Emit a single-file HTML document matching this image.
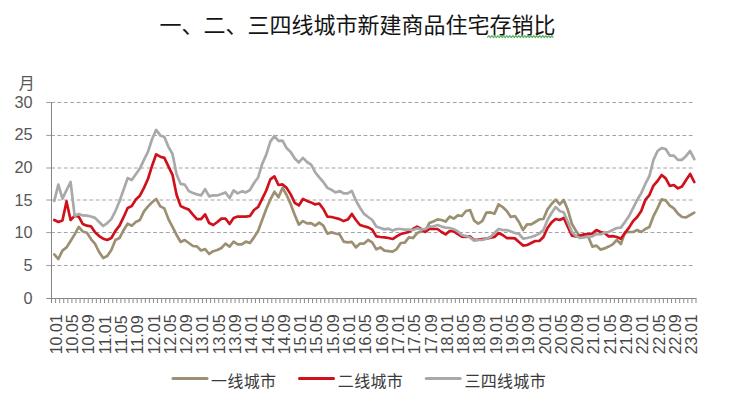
<!DOCTYPE html>
<html lang="zh"><head><meta charset="utf-8"><title>一、二、三四线城市新建商品住宅存销比</title>
<style>html,body{margin:0;padding:0;background:#fff}body{width:740px;height:400px;overflow:hidden;font-family:"Liberation Sans","Noto Sans CJK SC",sans-serif}svg{display:block}.t{font-family:"Liberation Sans","Noto Sans CJK SC",sans-serif}</style></head><body>
<svg width="740" height="400" viewBox="0 0 740 400">
<rect width="740" height="400" fill="#fff"/>
<text class="t" x="159.4" y="33.15" font-size="22" fill="#141414">一、二、三四线城市新建商品住宅存销比</text>
<path d="M487.3 37.6 L488.8 35.6 L490.3 37.6 L491.8 35.6 L493.3 37.6 L494.8 35.6 L496.3 37.6 L497.8 35.6 L499.3 37.6 L500.8 35.6 L502.3 37.6 L503.8 35.6 L505.3 37.6 L506.8 35.6 L508.3 37.6 L509.8 35.6 L511.3 37.6 L512.8 35.6 L514.3 37.6 L515.8 35.6 L517.3 37.6 L518.8 35.6 L520.3 37.6 L521.8 35.6 L523.3 37.6 L524.8 35.6 L526.3 37.6 L527.8 35.6 L529.3 37.6 L530.8 35.6 L532.3 37.6 L533.8 35.6 L535.3 37.6 L536.8 35.6 L538.3 37.6 L539.8 35.6 L541.3 37.6 L542.8 35.6 L544.3 37.6 L545.8 35.6 L547.3 37.6 L548.8 35.6 L550.3 37.6 L551.8 35.6 L553.3 37.6" fill="none" stroke="#5fb164" stroke-width="1.2" stroke-linejoin="round"/>
<line x1="46.2" y1="265.5" x2="52.0" y2="265.5" stroke="#a3a3a3" stroke-width="1.1"/>
<line x1="51.1" y1="265.5" x2="693.0" y2="265.5" stroke="#a3a3a3" stroke-width="1.1" stroke-dasharray="3.8 2.577"/>
<line x1="46.2" y1="232.5" x2="52.0" y2="232.5" stroke="#a3a3a3" stroke-width="1.1"/>
<line x1="51.1" y1="232.5" x2="693.0" y2="232.5" stroke="#a3a3a3" stroke-width="1.1" stroke-dasharray="3.8 2.577"/>
<line x1="46.2" y1="200.0" x2="52.0" y2="200.0" stroke="#a3a3a3" stroke-width="1.1"/>
<line x1="51.1" y1="200.0" x2="693.0" y2="200.0" stroke="#a3a3a3" stroke-width="1.1" stroke-dasharray="3.8 2.577"/>
<line x1="46.2" y1="168.0" x2="52.0" y2="168.0" stroke="#a3a3a3" stroke-width="1.1"/>
<line x1="51.1" y1="168.0" x2="693.0" y2="168.0" stroke="#a3a3a3" stroke-width="1.1" stroke-dasharray="3.8 2.577"/>
<line x1="46.2" y1="135.45" x2="52.0" y2="135.45" stroke="#a3a3a3" stroke-width="1.1"/>
<line x1="51.1" y1="135.45" x2="693.0" y2="135.45" stroke="#a3a3a3" stroke-width="1.1" stroke-dasharray="3.8 2.577"/>
<line x1="46.2" y1="102.5" x2="52.0" y2="102.5" stroke="#a3a3a3" stroke-width="1.1"/>
<line x1="51.1" y1="102.5" x2="693.0" y2="102.5" stroke="#a3a3a3" stroke-width="1.1" stroke-dasharray="3.8 2.577"/>
<polyline points="54.29,254.40 58.36,259.03 62.44,250.62 66.52,247.43 70.59,240.98 74.67,234.39 78.74,226.96 82.82,231.53 86.90,232.83 90.97,239.02 95.05,243.97 99.13,251.99 103.20,257.99 107.28,256.03 111.35,249.97 115.43,240.00 119.51,238.04 123.58,230.22 127.66,223.71 131.73,225.66 135.81,222.01 139.89,219.99 143.96,211.32 148.04,206.37 152.11,202.20 156.19,198.94 160.27,206.37 164.34,208.39 168.42,219.14 172.50,226.96 176.57,234.98 180.65,241.95 184.72,240.00 188.80,243.00 192.88,245.99 196.95,246.39 201.03,250.43 205.10,249.12 209.18,254.01 213.26,251.21 217.33,249.97 221.41,248.01 225.48,243.58 229.56,246.58 233.64,241.63 237.71,244.43 241.79,244.43 245.87,241.63 249.94,243.00 254.02,237.39 258.09,231.01 262.17,219.99 266.25,208.98 270.32,199.59 274.40,191.77 278.47,197.31 282.55,187.86 286.63,195.03 290.70,204.16 294.78,214.97 298.85,224.62 302.93,221.10 307.01,223.38 311.08,223.05 315.16,225.66 319.24,222.60 323.31,225.66 327.39,233.61 331.46,232.37 335.54,233.48 339.62,234.39 343.69,241.63 347.77,242.41 351.84,241.95 355.92,247.43 360.00,243.58 364.07,243.58 368.15,240.00 372.22,242.41 376.30,249.38 380.38,247.43 384.45,250.62 388.53,251.08 392.61,251.60 396.68,249.12 400.76,243.00 404.83,242.61 408.91,237.39 412.99,238.04 417.06,233.03 421.14,231.59 425.21,231.01 429.29,223.05 433.37,221.43 437.44,219.40 441.52,219.99 445.59,221.62 449.67,216.54 453.75,218.62 457.82,215.43 461.90,216.02 465.98,211.00 470.05,210.02 474.13,220.58 478.20,223.58 482.28,221.10 486.36,212.63 490.43,212.43 494.51,213.60 498.58,204.42 502.66,207.02 506.74,211.00 510.81,216.99 514.89,216.02 518.97,222.01 523.04,230.03 527.12,224.36 531.19,224.36 535.27,222.01 539.35,219.40 543.42,219.01 547.50,209.37 551.57,204.02 555.65,199.59 559.73,204.42 563.80,199.98 567.88,210.02 571.95,224.03 576.03,231.01 580.11,236.41 584.18,236.41 588.26,236.74 592.34,246.58 596.41,245.60 600.49,249.58 604.56,248.41 608.64,246.58 612.72,244.43 616.79,240.00 620.87,243.97 624.94,232.37 629.02,231.98 633.10,231.98 637.17,230.03 641.25,231.98 645.32,228.98 649.40,226.96 653.48,216.02 657.55,208.07 661.63,199.40 665.71,200.38 669.78,205.59 673.86,208.39 677.93,213.60 682.01,216.99 686.09,217.38 690.16,214.97 694.24,212.63" fill="none" stroke="#9b9071" stroke-width="2.7" stroke-linejoin="round" stroke-linecap="round"/>
<polyline points="54.29,219.99 58.36,222.01 62.44,220.45 66.52,201.42 70.59,219.99 74.67,215.89 78.74,216.54 82.82,224.03 86.90,225.66 90.97,226.31 95.05,232.18 99.13,236.09 103.20,238.70 107.28,240.00 111.35,238.04 115.43,230.87 119.51,225.66 123.58,217.19 127.66,208.07 131.73,206.11 135.81,199.59 139.89,195.68 143.96,187.86 148.04,178.74 152.11,165.70 156.19,154.30 160.27,156.71 164.34,157.88 168.42,166.36 172.50,174.83 176.57,194.71 180.65,206.11 184.72,208.07 188.80,209.63 192.88,214.58 196.95,219.14 201.03,219.14 205.10,214.39 209.18,223.05 213.26,225.01 217.33,222.01 221.41,218.62 225.48,218.49 229.56,224.03 233.64,217.97 237.71,216.54 241.79,216.54 245.87,216.54 249.94,216.02 254.02,210.02 258.09,207.02 262.17,198.94 266.25,190.47 270.32,179.39 274.40,176.39 278.47,185.00 282.55,184.41 286.63,187.86 290.70,194.38 294.78,202.85 298.85,205.46 302.93,198.94 307.01,200.90 311.08,202.40 315.16,204.42 319.24,203.50 323.31,208.98 327.39,216.54 331.46,216.99 335.54,217.97 339.62,219.14 343.69,221.10 347.77,219.60 351.84,213.93 355.92,219.99 360.00,225.01 364.07,226.31 368.15,227.42 372.22,229.57 376.30,236.41 380.38,237.00 384.45,237.39 388.53,238.04 392.61,239.02 396.68,236.41 400.76,234.00 404.83,233.03 408.91,231.98 412.99,228.98 417.06,226.57 421.14,228.98 425.21,231.98 429.29,228.98 433.37,228.98 437.44,228.98 441.52,231.98 445.59,234.39 449.67,231.01 453.75,231.40 457.82,234.00 461.90,236.61 465.98,237.00 470.05,236.41 474.13,240.00 478.20,239.61 482.28,239.02 486.36,238.70 490.43,237.59 494.51,237.00 498.58,233.03 502.66,234.98 506.74,238.04 510.81,238.04 514.89,238.37 518.97,241.95 523.04,245.60 527.12,245.02 531.19,243.00 535.27,240.98 539.35,240.98 543.42,237.00 547.50,228.01 551.57,222.40 555.65,219.01 559.73,219.99 563.80,217.97 567.88,226.96 571.95,235.63 576.03,236.41 580.11,235.63 584.18,234.39 588.26,234.00 592.34,233.61 596.41,230.03 600.49,231.98 604.56,233.03 608.64,236.41 612.72,236.09 616.79,237.00 620.87,238.70 624.94,233.03 629.02,227.62 633.10,221.10 637.17,216.99 641.25,211.00 645.32,199.98 649.40,195.03 653.48,185.58 657.55,181.02 661.63,175.02 665.71,178.41 669.78,185.97 673.86,185.00 677.93,188.38 682.01,186.43 686.09,180.04 690.16,173.98 694.24,182.00" fill="none" stroke="#d0111b" stroke-width="2.7" stroke-linejoin="round" stroke-linecap="round"/>
<polyline points="54.29,200.90 58.36,184.60 62.44,198.62 66.52,190.14 70.59,182.00 74.67,215.89 78.74,213.93 82.82,215.43 86.90,215.63 90.97,216.54 95.05,217.84 99.13,222.01 103.20,225.99 107.28,223.05 111.35,219.14 115.43,211.00 119.51,201.22 123.58,189.82 127.66,178.09 131.73,180.04 135.81,174.18 139.89,168.57 143.96,159.84 148.04,151.69 152.11,138.99 156.19,129.86 160.27,135.40 164.34,137.03 168.42,146.81 172.50,153.97 176.57,174.18 180.65,183.95 184.72,184.60 188.80,191.12 192.88,193.08 196.95,194.38 201.03,195.42 205.10,189.17 209.18,196.33 213.26,195.42 217.33,195.42 221.41,193.99 225.48,192.42 229.56,198.03 233.64,190.47 237.71,193.40 241.79,191.38 245.87,192.42 249.94,190.01 254.02,182.97 258.09,177.44 262.17,164.01 266.25,154.63 270.32,141.59 274.40,135.99 278.47,140.94 282.55,140.61 286.63,148.11 290.70,152.02 294.78,158.54 298.85,162.45 302.93,157.88 307.01,161.99 311.08,164.60 315.16,172.22 319.24,177.44 323.31,182.00 327.39,187.86 331.46,189.82 335.54,192.42 339.62,190.99 343.69,193.47 347.77,193.40 351.84,190.93 355.92,200.57 360.00,207.74 364.07,213.93 368.15,216.99 372.22,219.99 376.30,226.57 380.38,228.01 384.45,229.38 388.53,228.59 392.61,230.61 396.68,228.98 400.76,228.98 404.83,229.57 408.91,229.57 412.99,230.03 417.06,228.40 421.14,229.57 425.21,228.98 429.29,226.57 433.37,226.57 437.44,225.01 441.52,226.57 445.59,227.62 449.67,228.01 453.75,229.18 457.82,231.40 461.90,234.98 465.98,236.09 470.05,237.59 474.13,240.65 478.20,240.00 482.28,240.00 486.36,238.70 490.43,237.00 494.51,233.03 498.58,228.98 502.66,230.03 506.74,230.03 510.81,231.40 514.89,233.03 518.97,234.00 523.04,238.70 527.12,238.04 531.19,237.00 535.27,235.63 539.35,233.61 543.42,230.03 547.50,219.99 551.57,213.02 555.65,207.02 559.73,211.00 563.80,212.43 567.88,222.01 571.95,231.98 576.03,236.09 580.11,238.04 584.18,237.39 588.26,236.61 592.34,236.41 596.41,234.00 600.49,234.39 604.56,232.63 608.64,231.98 612.72,230.03 616.79,228.01 620.87,227.62 624.94,222.01 629.02,216.02 633.10,208.07 637.17,199.98 641.25,193.08 645.32,183.95 649.40,176.13 653.48,159.84 657.55,150.98 661.63,148.11 665.71,149.02 669.78,155.60 673.86,155.60 677.93,159.84 682.01,159.84 686.09,155.93 690.16,150.98 694.24,159.19" fill="none" stroke="#a9a9a9" stroke-width="2.7" stroke-linejoin="round" stroke-linecap="round"/>
<line x1="51.5" y1="102.0" x2="51.5" y2="303.0" stroke="#858585" stroke-width="1"/>
<line x1="46.5" y1="298.5" x2="696.5" y2="298.5" stroke="#858585" stroke-width="1"/>
<path d="M55.58 298.5v4.5M59.66 298.5v4.5M63.74 298.5v4.5M67.82 298.5v4.5M71.90 298.5v4.5M75.97 298.5v4.5M80.05 298.5v4.5M84.13 298.5v4.5M88.21 298.5v4.5M92.29 298.5v4.5M96.37 298.5v4.5M100.45 298.5v4.5M104.53 298.5v4.5M108.61 298.5v4.5M112.69 298.5v4.5M116.77 298.5v4.5M120.84 298.5v4.5M124.92 298.5v4.5M129.00 298.5v4.5M133.08 298.5v4.5M137.16 298.5v4.5M141.24 298.5v4.5M145.32 298.5v4.5M149.40 298.5v4.5M153.48 298.5v4.5M157.56 298.5v4.5M161.64 298.5v4.5M165.72 298.5v4.5M169.79 298.5v4.5M173.87 298.5v4.5M177.95 298.5v4.5M182.03 298.5v4.5M186.11 298.5v4.5M190.19 298.5v4.5M194.27 298.5v4.5M198.35 298.5v4.5M202.43 298.5v4.5M206.51 298.5v4.5M210.59 298.5v4.5M214.66 298.5v4.5M218.74 298.5v4.5M222.82 298.5v4.5M226.90 298.5v4.5M230.98 298.5v4.5M235.06 298.5v4.5M239.14 298.5v4.5M243.22 298.5v4.5M247.30 298.5v4.5M251.38 298.5v4.5M255.46 298.5v4.5M259.53 298.5v4.5M263.61 298.5v4.5M267.69 298.5v4.5M271.77 298.5v4.5M275.85 298.5v4.5M279.93 298.5v4.5M284.01 298.5v4.5M288.09 298.5v4.5M292.17 298.5v4.5M296.25 298.5v4.5M300.33 298.5v4.5M304.41 298.5v4.5M308.48 298.5v4.5M312.56 298.5v4.5M316.64 298.5v4.5M320.72 298.5v4.5M324.80 298.5v4.5M328.88 298.5v4.5M332.96 298.5v4.5M337.04 298.5v4.5M341.12 298.5v4.5M345.20 298.5v4.5M349.28 298.5v4.5M353.35 298.5v4.5M357.43 298.5v4.5M361.51 298.5v4.5M365.59 298.5v4.5M369.67 298.5v4.5M373.75 298.5v4.5M377.83 298.5v4.5M381.91 298.5v4.5M385.99 298.5v4.5M390.07 298.5v4.5M394.15 298.5v4.5M398.22 298.5v4.5M402.30 298.5v4.5M406.38 298.5v4.5M410.46 298.5v4.5M414.54 298.5v4.5M418.62 298.5v4.5M422.70 298.5v4.5M426.78 298.5v4.5M430.86 298.5v4.5M434.94 298.5v4.5M439.02 298.5v4.5M443.09 298.5v4.5M447.17 298.5v4.5M451.25 298.5v4.5M455.33 298.5v4.5M459.41 298.5v4.5M463.49 298.5v4.5M467.57 298.5v4.5M471.65 298.5v4.5M475.73 298.5v4.5M479.81 298.5v4.5M483.89 298.5v4.5M487.97 298.5v4.5M492.04 298.5v4.5M496.12 298.5v4.5M500.20 298.5v4.5M504.28 298.5v4.5M508.36 298.5v4.5M512.44 298.5v4.5M516.52 298.5v4.5M520.60 298.5v4.5M524.68 298.5v4.5M528.76 298.5v4.5M532.84 298.5v4.5M536.91 298.5v4.5M540.99 298.5v4.5M545.07 298.5v4.5M549.15 298.5v4.5M553.23 298.5v4.5M557.31 298.5v4.5M561.39 298.5v4.5M565.47 298.5v4.5M569.55 298.5v4.5M573.63 298.5v4.5M577.71 298.5v4.5M581.78 298.5v4.5M585.86 298.5v4.5M589.94 298.5v4.5M594.02 298.5v4.5M598.10 298.5v4.5M602.18 298.5v4.5M606.26 298.5v4.5M610.34 298.5v4.5M614.42 298.5v4.5M618.50 298.5v4.5M622.58 298.5v4.5M626.66 298.5v4.5M630.73 298.5v4.5M634.81 298.5v4.5M638.89 298.5v4.5M642.97 298.5v4.5M647.05 298.5v4.5M651.13 298.5v4.5M655.21 298.5v4.5M659.29 298.5v4.5M663.37 298.5v4.5M667.45 298.5v4.5M671.53 298.5v4.5M675.60 298.5v4.5M679.68 298.5v4.5M683.76 298.5v4.5M687.84 298.5v4.5M691.92 298.5v4.5M696.00 298.5v4.5" stroke="#8c8c8c" stroke-width="1" fill="none"/>
<text class="t" x="23.45" y="303.69" font-size="16.3" fill="#575757">0</text>
<text class="t" x="23.45" y="271.05" font-size="16.3" fill="#575757">5</text>
<text class="t" x="14.41" y="238.41" font-size="16.3" fill="#575757">10</text>
<text class="t" x="14.41" y="205.77" font-size="16.3" fill="#575757">15</text>
<text class="t" x="14.41" y="173.13" font-size="16.3" fill="#575757">20</text>
<text class="t" x="14.41" y="140.49" font-size="16.3" fill="#575757">25</text>
<text class="t" x="14.41" y="107.85" font-size="16.3" fill="#575757">30</text>
<text class="t" x="18.7" y="88.9" font-size="16" fill="#575757">月</text>
<text class="t" transform="translate(61.85 354.3) rotate(-90)" font-size="16" fill="#474747">10.01</text>
<text class="t" transform="translate(78.14 354.3) rotate(-90)" font-size="16" fill="#474747">10.05</text>
<text class="t" transform="translate(94.43 354.3) rotate(-90)" font-size="16" fill="#474747">10.09</text>
<text class="t" transform="translate(110.72 354.3) rotate(-90)" font-size="16" fill="#474747">11.01</text>
<text class="t" transform="translate(127.01 354.3) rotate(-90)" font-size="16" fill="#474747">11.05</text>
<text class="t" transform="translate(143.30 354.3) rotate(-90)" font-size="16" fill="#474747">11.09</text>
<text class="t" transform="translate(159.59 354.3) rotate(-90)" font-size="16" fill="#474747">12.01</text>
<text class="t" transform="translate(175.88 354.3) rotate(-90)" font-size="16" fill="#474747">12.05</text>
<text class="t" transform="translate(192.17 354.3) rotate(-90)" font-size="16" fill="#474747">12.09</text>
<text class="t" transform="translate(208.46 354.3) rotate(-90)" font-size="16" fill="#474747">13.01</text>
<text class="t" transform="translate(224.75 354.3) rotate(-90)" font-size="16" fill="#474747">13.05</text>
<text class="t" transform="translate(241.04 354.3) rotate(-90)" font-size="16" fill="#474747">13.09</text>
<text class="t" transform="translate(257.33 354.3) rotate(-90)" font-size="16" fill="#474747">14.01</text>
<text class="t" transform="translate(273.62 354.3) rotate(-90)" font-size="16" fill="#474747">14.05</text>
<text class="t" transform="translate(289.91 354.3) rotate(-90)" font-size="16" fill="#474747">14.09</text>
<text class="t" transform="translate(306.20 354.3) rotate(-90)" font-size="16" fill="#474747">15.01</text>
<text class="t" transform="translate(322.49 354.3) rotate(-90)" font-size="16" fill="#474747">15.05</text>
<text class="t" transform="translate(338.78 354.3) rotate(-90)" font-size="16" fill="#474747">15.09</text>
<text class="t" transform="translate(355.07 354.3) rotate(-90)" font-size="16" fill="#474747">16.01</text>
<text class="t" transform="translate(371.36 354.3) rotate(-90)" font-size="16" fill="#474747">16.05</text>
<text class="t" transform="translate(387.65 354.3) rotate(-90)" font-size="16" fill="#474747">16.09</text>
<text class="t" transform="translate(403.94 354.3) rotate(-90)" font-size="16" fill="#474747">17.01</text>
<text class="t" transform="translate(420.23 354.3) rotate(-90)" font-size="16" fill="#474747">17.05</text>
<text class="t" transform="translate(436.52 354.3) rotate(-90)" font-size="16" fill="#474747">17.09</text>
<text class="t" transform="translate(452.81 354.3) rotate(-90)" font-size="16" fill="#474747">18.01</text>
<text class="t" transform="translate(469.10 354.3) rotate(-90)" font-size="16" fill="#474747">18.05</text>
<text class="t" transform="translate(485.39 354.3) rotate(-90)" font-size="16" fill="#474747">18.09</text>
<text class="t" transform="translate(501.68 354.3) rotate(-90)" font-size="16" fill="#474747">19.01</text>
<text class="t" transform="translate(517.97 354.3) rotate(-90)" font-size="16" fill="#474747">19.05</text>
<text class="t" transform="translate(534.26 354.3) rotate(-90)" font-size="16" fill="#474747">19.09</text>
<text class="t" transform="translate(550.55 354.3) rotate(-90)" font-size="16" fill="#474747">20.01</text>
<text class="t" transform="translate(566.84 354.3) rotate(-90)" font-size="16" fill="#474747">20.05</text>
<text class="t" transform="translate(583.13 354.3) rotate(-90)" font-size="16" fill="#474747">20.09</text>
<text class="t" transform="translate(599.42 354.3) rotate(-90)" font-size="16" fill="#474747">21.01</text>
<text class="t" transform="translate(615.71 354.3) rotate(-90)" font-size="16" fill="#474747">21.05</text>
<text class="t" transform="translate(632.00 354.3) rotate(-90)" font-size="16" fill="#474747">21.09</text>
<text class="t" transform="translate(648.29 354.3) rotate(-90)" font-size="16" fill="#474747">22.01</text>
<text class="t" transform="translate(664.58 354.3) rotate(-90)" font-size="16" fill="#474747">22.05</text>
<text class="t" transform="translate(680.87 354.3) rotate(-90)" font-size="16" fill="#474747">22.09</text>
<text class="t" transform="translate(697.16 354.3) rotate(-90)" font-size="16" fill="#474747">23.01</text>
<line x1="173.0" y1="378.45" x2="207.0" y2="378.45" stroke="#9b9071" stroke-width="3.0" stroke-linecap="round"/>
<text class="t" x="211.1" y="386.5" font-size="16" letter-spacing="0.3" fill="#3a3a3a">一线城市</text>
<line x1="299.5" y1="378.45" x2="333.5" y2="378.45" stroke="#d0111b" stroke-width="3.0" stroke-linecap="round"/>
<text class="t" x="337.85" y="386.5" font-size="16" letter-spacing="0.3" fill="#3a3a3a">二线城市</text>
<line x1="426.2" y1="378.45" x2="460.2" y2="378.45" stroke="#a9a9a9" stroke-width="3.0" stroke-linecap="round"/>
<text class="t" x="464.45" y="386.5" font-size="16" letter-spacing="0.3" fill="#3a3a3a">三四线城市</text>
</svg></body></html>
